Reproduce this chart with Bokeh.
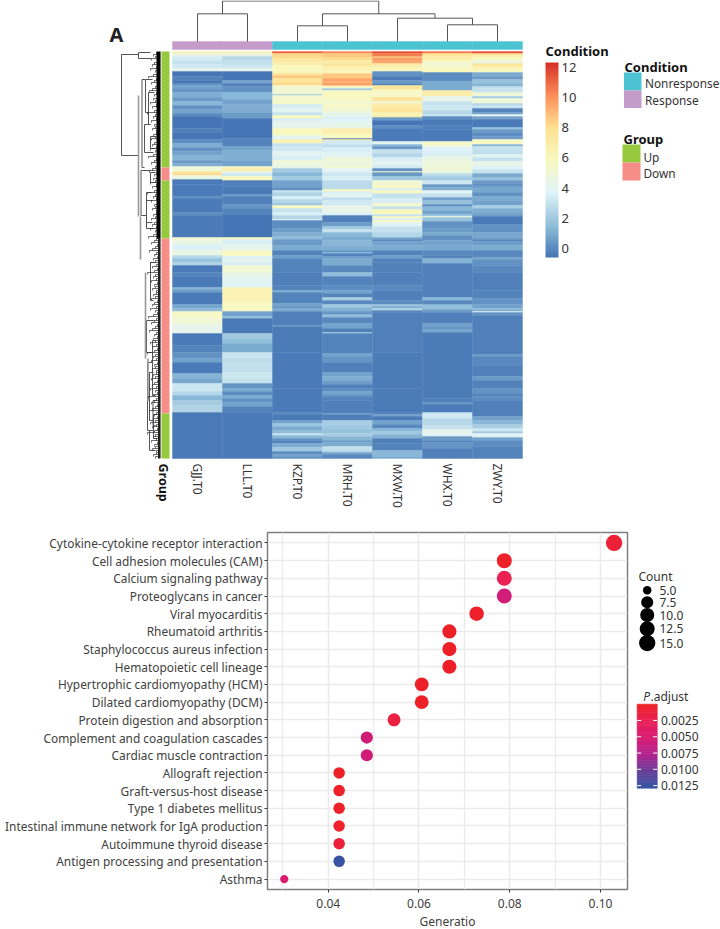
import numpy as np
from bokeh.plotting import figure
from bokeh.layouts import column, row
from bokeh.embed import file_html
from bokeh.resources import INLINE
from bokeh.core.properties import value
from bokeh.models import (Range1d, FactorRange, LinearColorMapper, ColorBar, FixedTicker, Label,
                          ColumnDataSource, PrintfTickFormatter)

FONT = "Noto Sans"

# ---------------- DATA: panel A ----------------
samples = ["GJJ.T0", "LLL.T0", "KZP.T0", "MRH.T0", "MXW.T0", "WHX.T0", "ZWY.T0"]
sample_condition = ["Response", "Response", "Nonresponse", "Nonresponse", "Nonresponse", "Nonresponse", "Nonresponse"]
# heatmap columns: (last row of the run, expression value); rows are numbered from 51 to 458
GJJ = [(53,6.5),(56,4.5),(60,3.4),(64,3.0),(68,3.3),(71,4.2),(76,0.0),(80,0.3),(83,0.0),(85,0.5),(88,1.0),(92,0.7),(97,1.3),(101,0.8),(105,1.5),(109,0.6),(113,1.0),(116,0.4),
       (128,0.0),(132,0.2),(139,0.0),(143,0.5),(147,1.3),(151,0.6),(155,1.0),(160,1.4),(163,0.8),(166,1.3),(171,5.0),(173,7.6),(175,8.2),(179,4.6),(184,0.1),
       (196,0.1),(198,0.5),(212,0.1),(215,0.5),(237,0.1),(239,5.5),(244,4.6),(250,3.6),(255,4.6),(258,2.6),(262,1.8),(265,2.4),(272,0.1),(276,0.3),(287,0.1),(289,1.4),(292,0.9),(304,0.1),
       (308,1.1),(311,1.6),(318,5.6),(324,5.0),(333,4.2),(345,0.1),(352,0.3),(358,0.6),(362,1.0),(373,0.1),(378,1.4),(383,1.1),(391,3.2),(395,2.5),(400,1.5),(405,2.1),(412,2.4),(458,0.1)]
LLL = [(53,6.5),(56,4.5),(60,2.6),(65,2.9),(68,3.2),(71,4.2),(80,0.0),(83,1.0),(86,0.2),(92,0.6),(99,1.5),(104,1.0),(112,1.3),(118,0.8),
       (138,0.0),(146,0.3),(150,1.0),(160,1.3),(166,1.0),(168,5.8),(171,6.8),(173,4.0),(176,3.2),(180,6.0),(186,0.2),
       (194,0.1),(196,0.8),(204,0.2),(208,0.7),(214,0.3),(237,0.0),(239,6.0),(244,3.5),(250,4.2),(256,5.8),(259,3.6),(262,4.2),(265,3.4),(272,5.2),(276,4.5),(282,4.0),(287,3.7),(302,6.4),(311,5.8),
       (316,1.0),(318,1.7),(333,0.1),(338,2.0),(343,1.7),(352,1.2),(358,3.1),(362,2.7),(372,2.9),(378,3.2),(383,3.0),(388,0.7),(391,1.2),(395,0.5),(398,1.2),(402,0.6),(406,1.0),(412,0.3),(458,0.1)]
KZP = [(53,11.2),(58,8.2),(62,7.2),(65,6.8),(71,6.0),(73,6.3),(75,7.6),(78,8.6),(82,7.6),(85,8.2),(94,5.2),(95,1.8),(100,5.3),(104,5.6),(108,3.4),(112,4.0),(115,3.0),(118,6.0),
       (121,3.5),(128,4.2),(135,6.0),(139,4.0),(143,6.4),(146,3.0),(151,3.3),(155,4.0),(160,3.5),(164,5.0),(168,4.5),(172,2.0),(176,1.5),(180,2.0),(187,1.0),(190,0.6),
       (192,3.0),(196,2.4),(199,3.6),(203,2.5),(205,1.8),(208,5.8),(212,3.0),(215,3.5),(219,2.5),(220,4.2),(228,0.5),(232,0.9),(236,1.3),(239,1.6),(245,0.8),(250,1.2),(255,0.3),(258,0.9),(272,0.3),
       (285,0.2),(290,0.3),(292,1.2),(303,0.3),(306,1.0),(308,0.6),(311,1.2),(325,0.2),(326,0.8),(352,0.15),(388,0.1),(412,0.1),(414,0.4),(420,0.1),(423,1.0),(426,1.9),(430,1.2),(433,1.6),(435,3.0),(438,1.5),(440,0.6),(443,0.3),(447,1.3),(451,2.0),(454,0.5),(456,1.0),(458,0.6)]
MRH = [(53,10.3),(57,8.6),(60,8.1),(63,7.0),(66,7.6),(70,6.5),(73,6.2),(78,8.6),(81,9.6),(83,9.2),(85,9.9),(86,8.0),(88,5.5),(90,2.1),(101,5.8),(103,5.0),(108,5.6),(112,5.0),(116,4.3),
       (119,3.6),(123,3.9),(128,4.3),(134,6.6),(138,5.8),(139,0.2),(140,8.0),(144,3.3),(147,2.8),(152,3.5),(157,3.8),(161,5.0),(165,4.7),(168,5.2),(172,3.8),(176,3.2),(180,3.5),(189,2.7),(191,6.0),(193,3.5),(197,4.0),(200,2.8),(205,3.3),(210,4.2),(212,4.6),(215,3.6),
       (222,0.2),(226,0.9),(229,2.0),(232,3.0),(236,1.5),(240,1.2),(245,1.5),(250,1.3),(252,0.6),(253,1.6),(256,0.3),(258,0.8),(265,1.2),(272,0.4),(276,1.6),(285,0.3),(290,0.5),(293,1.0),(297,0.3),(300,2.2),(304,0.4),(307,2.0),(310,1.4),(312,1.0),(314,0.5),(317,1.6),(323,0.4),(328,1.0),(332,0.2),(333,2.0),
       (353,0.3),(356,1.0),(362,0.7),(372,0.2),(376,1.0),(380,1.3),(384,0.9),(388,0.2),(391,0.5),(394,1.0),(396,0.6),(400,0.3),(413,0.2),(414,1.0),(420,0.2),(424,2.2),(428,2.0),(433,1.8),(436,2.2),(440,1.5),(442,0.8),(446,1.2),(450,2.9),(452,2.4),(454,1.0),(458,0.4)]
MXW = [(53,11.6),(56,10.5),(58,9.0),(60,10.0),(63,9.5),(66,7.0),(68,6.5),(71,6.2),(76,0.6),(80,0.1),(83,0.8),(85,0.3),(89,7.6),(92,6.0),(97,5.5),(99,8.0),(101,7.5),(103,5.0),(108,7.0),(112,7.6),(116,6.5),
       (117,7.6),(120,0.8),(125,0.0),(128,0.5),(141,0.1),(144,4.0),(146,1.5),(149,0.8),(153,3.0),(157,2.5),(161,3.5),(165,4.0),(168,3.3),(171,0.6),(172,5.7),(176,0.8),(180,2.0),(184,5.2),
       (188,5.6),(190,3.5),(193,5.9),(198,3.0),(203,3.5),(206,5.5),(209,3.0),(214,6.0),(216,3.0),(218,6.0),(220,3.5),(222,6.0),(226,3.8),(232,3.0),(237,2.5),(239,1.0),(241,0.4),(245,1.0),(250,1.2),(255,0.3),(258,0.9),(262,0.3),(272,0.25),(285,0.2),(290,0.4),(300,0.2),(304,0.5),(306,1.8),(308,1.2),(310,2.4),(312,0.4),
       (352,0.2),(388,0.15),(412,0.15),(414,0.2),(416,1.0),(420,0.1),(424,1.0),(428,0.4),(431,1.5),(434,2.0),(438,1.4),(443,0.2),(450,0.3),(456,1.5),(458,1.2)]
WHX = [(53,10.6),(56,7.6),(60,6.8),(62,6.0),(65,5.0),(69,5.6),(72,6.0),(81,0.5),(90,1.2),(96,6.8),(98,4.0),(101,4.4),(105,3.0),(110,3.2),(114,2.6),(116,3.0),(119,0.5),(125,0.1),(129,0.2),(141,0.1),(146,5.5),(150,3.8),(156,3.5),(160,4.5),(166,4.8),(170,5.2),(173,4.7),(176,2.7),(180,2.0),(184,3.2),
       (187,0.8),(190,1.3),(193,3.8),(197,3.0),(200,1.0),(204,1.8),(206,0.5),(210,1.5),(214,1.0),(216,1.8),(217,5.0),(221,1.8),(228,0.6),(232,0.8),(235,1.2),(240,0.6),(245,1.0),(250,1.1),(255,0.4),(258,0.3),(263,1.4),(297,0.2),(300,1.5),(304,0.4),(306,1.5),(309,1.7),(312,0.9),(323,0.2),(326,0.9),(329,0.7),(332,1.0),
       (398,0.15),(402,0.2),(404,0.7),(412,0.1),(414,3.0),(418,3.3),(425,2.6),(429,3.0),(433,4.2),(436,3.8),(440,0.8),(442,0.3),(448,0.7),(458,0.2)]
ZWY = [(53,11.6),(55,8.0),(57,6.5),(60,6.0),(63,4.5),(66,7.6),(69,6.5),(72,6.0),(76,1.2),(79,0.8),(83,1.8),(86,1.4),(88,2.8),(92,3.0),(96,5.0),(98,2.0),(103,5.0),(105,2.5),(108,3.0),(112,0.3),(114,1.0),(116,4.0),
       (119,1.0),(127,0.1),(129,1.8),(132,0.8),(136,0.5),(139,0.8),(144,5.8),(146,1.5),(150,3.0),(154,2.8),(157,4.0),(161,3.0),(165,4.5),(169,3.7),(173,3.0),(177,1.2),(180,1.8),(183,0.8),(186,0.6),
       (188,0.9),(192,1.1),(196,0.6),(200,1.2),(205,1.0),(208,2.2),(212,1.3),(214,1.0),(216,0.8),(224,0.1),(232,0.6),(236,1.1),(239,1.0),(241,0.3),(245,0.9),(250,1.2),(257,0.4),(259,1.0),(265,0.6),(272,0.4),(290,0.2),(298,0.3),(304,0.6),(308,1.0),(310,1.6),(311,0.8),(312,4.0),(315,0.6),
       (354,0.2),(356,0.8),(365,0.4),(376,0.2),(380,0.8),(388,0.25),(393,0.6),(396,0.3),(400,0.5),(416,0.2),(420,1.0),(424,1.5),(428,2.2),(431,3.2),(433,2.0),(437,3.8),(440,1.0),(446,0.5),(458,0.3)]
heat_cols = [GJJ, LLL, KZP, MRH, MXW, WHX, ZWY]
# row annotation: (last row of the block, group)
row_groups = [(167,"Up"),(180,"Down"),(238,"Up"),(413,"Down"),(458,"Up")]
heat_ticks = [0, 2, 4, 6, 8, 10, 12]
# column dendrogram merges: (left leaf pos, left height, right leaf pos, right height, join height)
col_merges = [(0.5,0,1.5,0,27.7),(2.5,0,3.5,0,15.7),(5.5,0,6.5,0,16.7),(4.5,0,6.0,16.7,23.3),(3.0,15.7,5.25,23.3,27.7),(1.0,27.7,4.125,27.7,40.5)]
# row dendrogram merges: (join height, top row, top child height, bottom row, bottom child height)
row_merges = [(39,54,22,155,22),(22,52,10,58,9),(18.5,79,15,167,16),(15,79,8,112,12),(12,92,6,124,10),(16,124,10,152,7),(10,136,5,148,5),
              (19.5,170,10,215,14),(10,172,5,182,5),(14,192,9,222,8),(14,200,8,228,7),(10,262,6,300,7),(14,320,6,352,8),
              (13,362,8,430,11),(11,372,7,420,7.5),(8,340,5,395,5),(7.5,400,4,425,5),(11,430,7,450,5),(7,414,3,438,3)]
# long grey stems of the row dendrogram: (height, first row, last row)
row_stems = [(22,95,216),(20,216,259),(15,272,358),(12.5,358,401)]
twig_depth = [4,7,5,9,3,6,8,4,10,5,3,7,12,4,6,9,3,5,8,11,4,6,3,7,5,10,4,8,3,6,13,5,7,4,9,3,6,5,8,4]

# ---------------- DATA: panel B ----------------
terms = ["Cytokine-cytokine receptor interaction","Cell adhesion molecules (CAM)","Calcium signaling pathway","Proteoglycans in cancer","Viral myocarditis",
         "Rheumatoid arthritis","Staphylococcus aureus infection","Hematopoietic cell lineage","Hypertrophic cardiomyopathy (HCM)","Dilated cardiomyopathy (DCM)",
         "Protein digestion and absorption","Complement and coagulation cascades","Cardiac muscle contraction","Allograft rejection","Graft-versus-host disease",
         "Type 1 diabetes mellitus","Intestinal immune network for IgA production","Autoimmune thyroid disease","Antigen processing and presentation","Asthma"]
gene_ratio = [0.1030,0.0788,0.0788,0.0788,0.0727,0.0667,0.0667,0.0667,0.0606,0.0606,0.0545,0.0485,0.0485,0.0424,0.0424,0.0424,0.0424,0.0424,0.0424,0.0303]
counts = [17,13,13,13,12,11,11,11,10,10,9,8,8,7,7,7,7,7,7,5]
p_adjust = [0.0009,0.0003,0.0022,0.0058,0.0003,0.0002,0.0002,0.0002,0.0002,0.0002,0.0014,0.0056,0.0056,0.0003,0.0003,0.0003,0.0004,0.0010,0.0129,0.0046]
count_legend = [5.0, 7.5, 10.0, 12.5, 15.0]
padj_ticks = [0.0025, 0.0050, 0.0075, 0.0100, 0.0125]
x_ticks = [0.04, 0.06, 0.08, 0.10]

# ---------------- styles ----------------
def ramp(stops, n=256):
    t = np.linspace(0, 1, n); k = np.linspace(0, 1, len(stops))
    rgb = np.array([[int(c[i:i+2], 16) for i in (1, 3, 5)] for c in stops], float)
    return ["#%02x%02x%02x" % tuple(int(round(np.interp(u, k, rgb[:, j]))) for j in range(3)) for u in t]

heat_pal = ramp(["#4575b4","#91bfdb","#e0f3f8","#f9f9c0","#fee090","#fc8d59","#d73027"])
heat_map = LinearColorMapper(palette=heat_pal, low=-0.6, high=12.33)
padj_pal = ramp(["#ee2024","#e9215a","#d81b72","#b3238e","#6b3e98","#3953a4"])
padj_map = LinearColorMapper(palette=padj_pal, low=0.0, high=0.0129)
cond_col = {"Nonresponse":"#4cc3d3", "Response":"#c49bc9"}
group_col = {"Up":"#96c93d", "Down":"#f68e87"}
TXT = "#333333"

# ---------------- panel A figure ----------------
HA = 516
a = figure(width=720, height=HA, output_backend="svg", toolbar_location=None,
           x_range=Range1d((0-172)/50, (720-172)/50), y_range=Range1d(HA, 0),
           min_border=0, outline_line_color=None, background_fill_color=None)
a.axis.visible = False; a.grid.visible = False
a.extra_x_ranges = {"page": Range1d(0, 720), "rd": Range1d(160, 160-720)}
a.extra_y_ranges = {"cd": Range1d(41-HA, 41)}

def T(fig, x, y, s, size=13, bold=False, italic=False, color=TXT, align="left", base="middle", angle=0, xr="page", **kw):
    style = "bold" if bold else ("italic" if italic else "normal")
    fig.text([x], [y], text=[s], text_font=value(FONT), text_font_size=f"{size}px", text_font_style=style,
             text_color=color, text_align=align, text_baseline=base, angle=angle, x_range_name=xr, **kw)

# heatmap
L, R, TP, B, V = [], [], [], [], []
for i, colm in enumerate(heat_cols):
    s = 51
    for e, v in colm:
        L.append(i); R.append(i+1); TP.append(s); B.append(e); V.append(float(np.interp(v, [0, 2, 13], [-0.55, 2, 13]))); s = e
a.quad(left="l", right="r", top="t", bottom="b", line_color={"field":"v","transform":heat_map}, line_width=0.4,
       fill_color={"field":"v","transform":heat_map},
       source=ColumnDataSource(dict(l=L, r=R, t=TP, b=B, v=V)))
# column annotation
a.quad(left=list(range(7)), right=list(range(1,8)), top=[41]*7, bottom=[49]*7, line_color=[cond_col[c] for c in sample_condition], line_width=0.4,
       fill_color=[cond_col[c] for c in sample_condition])
# row annotation
s = 51; T2, B2, C2 = [], [], []
for e, g in row_groups:
    T2.append(s); B2.append(e); C2.append(group_col[g]); s = e
a.quad(left=[161]*len(T2), right=[169]*len(T2), top=T2, bottom=B2, fill_color=C2, line_color=None, x_range_name="page")
# column dendrogram
for x0, h0, x1, h1, j in col_merges:
    a.line([x0, x0, x1, x1], [h0, j, j, h1], line_color="#555555", line_width=1, y_range_name="cd")
# row dendrogram
for j, y0, h0, y1, h1 in row_merges:
    a.line([h0, j, j, h1], [y0, y0, y1, y1], line_color="#555555", line_width=1, x_range_name="rd")
for h, y0, y1 in row_stems:
    a.line([h, h], [y0, y1], line_color="#999999", line_width=1.6, x_range_name="rd")
rows_t = list(range(52, 458, 2))
xs, ys = [], []
for i, r_ in enumerate(rows_t):
    d = twig_depth[i % len(twig_depth)]
    xs.append([0, d, d]); ys.append([r_, r_, r_+2])
a.multi_line(xs, ys, line_color="#333333", line_width=0.7, x_range_name="rd")
a.quad(left=[0], right=[4], top=[51], bottom=[238], fill_color="#000000", line_color=None, x_range_name="rd")
a.quad(left=[0], right=[2.5], top=[238], bottom=[458], fill_color="#222222", line_color=None, x_range_name="rd")

# labels
for i, n in enumerate(samples):
    T(a, i+0.5, 463, n, size=12, align="left", angle=-np.pi/2, xr="default")
T(a, 163, 463, "Group", size=12.5, bold=True, color="#111111", align="left", angle=-np.pi/2)
T(a, 109, 34, "A", size=20, bold=True, color="#222222")
T(a, 545, 50, "Condition", size=13, bold=True, color="#111111")
T(a, 624, 66, "Condition", size=13, bold=True, color="#111111")
T(a, 623, 138, "Group", size=13, bold=True, color="#111111")
a.quad(left=[623.5]*2, right=[641]*2, top=[72,90], bottom=[90,107.5], fill_color=[cond_col["Nonresponse"],cond_col["Response"]], line_color=None, x_range_name="page")
a.quad(left=[622]*2, right=[640]*2, top=[144,162], bottom=[162,180], fill_color=[group_col["Up"],group_col["Down"]], line_color=None, x_range_name="page")
T(a, 644.5, 82, "Nonresponse", size=11.8)
T(a, 644.5, 99, "Response", size=11.8)
T(a, 643, 156, "Up", size=11.8)
T(a, 643, 172, "Down", size=11.8)
cb = ColorBar(color_mapper=heat_map, ticker=FixedTicker(ticks=heat_ticks), width=13, height=195,
              location=(545, HA-257), padding=0, margin=0, major_tick_line_color=None, minor_tick_line_color=None, bar_line_color=None,
              major_label_text_font=FONT, major_label_text_font_size="13px", major_label_text_color=TXT, label_standoff=3,
              background_fill_color=None, border_line_color=None)
a.add_layout(cb, "center")

# ---------------- panel B figure ----------------
HB = 929 - HA
b = figure(width=632, height=HB, output_backend="svg", toolbar_location=None,
           x_range=Range1d(0.04-(328-267.3)/4533, 0.10+(627-600)/4533),
           y_range=FactorRange(factors=terms[::-1], range_padding=0.09, range_padding_units="absolute"),
           frame_width=360, frame_height=357, min_border_left=267, min_border_right=5, min_border_top=532-HA, min_border_bottom=40,
           outline_line_color="#7f7f7f", outline_line_width=1.5)
b.xaxis.ticker = FixedTicker(ticks=x_ticks, minor_ticks=[0.03,0.05,0.07,0.09])
b.xaxis.formatter = PrintfTickFormatter(format="%.2f")
b.axis.axis_line_color = None
b.axis.major_tick_line_color = "#333333"
b.axis.major_tick_in = 0; b.axis.major_tick_out = 3
b.axis.minor_tick_line_color = None
b.axis.major_label_text_font = FONT
b.axis.major_label_text_color = "#404040"
b.xaxis.major_label_text_font_size = "12px"
b.yaxis.major_label_text_font_size = "11.9px"
b.yaxis.major_label_standoff = 2
b.xaxis.major_label_standoff = 5
b.xaxis.axis_label = "Generatio"
b.xaxis.axis_label_text_font = FONT
b.xaxis.axis_label_text_font_size = "12px"
b.xaxis.axis_label_text_font_style = "normal"
b.xaxis.axis_label_text_color = "#404040"
b.xaxis.axis_label_standoff = 2
b.grid.grid_line_color = "#ebebeb"
b.grid.grid_line_width = 1.6
b.xgrid.minor_grid_line_color = "#ebebeb"
b.xgrid.minor_grid_line_width = 1.2

def size_of(c):
    return np.interp(c, [5,7,8,10,12,15,17], [8.3,11.5,12.2,13.8,14.5,16,16.3])

b.scatter("x", "y", size="s", fill_color={"field":"p","transform":padj_map}, line_color=None,
          source=ColumnDataSource(dict(x=gene_ratio, y=terms, s=size_of(np.array(counts)), p=p_adjust)))
b.add_layout(Label(x=45, y=HB-(518-HA), x_units="screen", y_units="screen", text="B", text_font=FONT, text_font_size="20px",
                   text_font_style="bold", text_color="#222222", text_baseline="middle"), "center")

# ---------------- legends of panel B ----------------
c = figure(width=88, height=HB, output_backend="svg", toolbar_location=None, x_range=Range1d(632, 720), y_range=Range1d(929, HA),
           min_border=0, outline_line_color=None)
c.axis.visible = False; c.grid.visible = False
per_px = 0.0025/19
c.extra_y_ranges = {"padj": Range1d(0.0125+(929-811.3)*per_px, 0.0125-(811.3-HA)*per_px)}
lev = np.linspace(0.0, 0.0129, 40)
bar_cols = [padj_pal[int(i*255/38)] for i in range(39)]
c.quad(left=[636.7]*39, right=[656.7]*39, top=lev[:-1].tolist(), bottom=lev[1:].tolist(),
       line_color=bar_cols, line_width=0.6, fill_color=bar_cols, y_range_name="padj")
for t in padj_ticks:
    c.line([636.7, 640.7], [t, t], line_color="white", line_width=1, y_range_name="padj")
    c.line([652.7, 656.7], [t, t], line_color="white", line_width=1, y_range_name="padj")
    c.text([660.5], [t], text=[f"{t:.4f}"], text_font=value(FONT), text_font_size="12px", text_color=TXT, text_baseline="middle", y_range_name="padj")
ys_c = [583.3, 597.3, 612.3, 628.3, 645]
c.scatter([646.7]*5, ys_c, size=size_of(np.array(count_legend))*1.02, fill_color="#000000", line_color=None)
for yy, v in zip(ys_c, count_legend):
    c.text([659], [yy], text=[f"{v:.1f}"], text_font=value(FONT), text_font_size="12px", text_color=TXT, text_baseline="middle")
c.text([638], [567], text=["Count"], text_font=value(FONT), text_font_size="12px", text_color=TXT, text_baseline="middle")
c.text([642.7], [707.7], text=["P"], text_font=value(FONT), text_font_size="12px", text_font_style="italic", text_color=TXT, text_baseline="middle")
c.text([650], [707.7], text=[".adjust"], text_font=value(FONT), text_font_size="12px", text_color=TXT, text_baseline="middle")

page = column(a, row(b, c, spacing=0), spacing=0)
open("out.html", "w").write(file_html(page, INLINE))
